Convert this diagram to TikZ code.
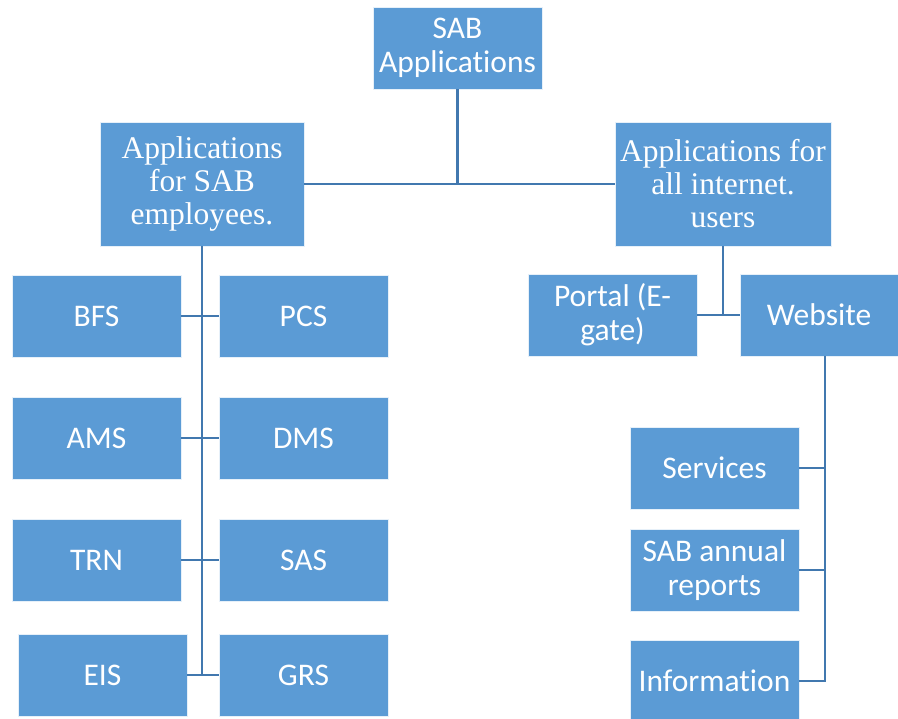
\documentclass[tikz,border=0pt]{standalone}
\usepackage{fontspec}
\setmainfont[Ligatures=NoCommon]{Carlito}
\newfontfamily\serifx{Liberation Serif}
\definecolor{boxfill}{RGB}{91,155,213}
\definecolor{linec}{RGB}{65,120,175}
\tikzset{
  box/.style={draw=white!85!boxfill, line width=0.8pt, fill=boxfill, text=white, align=center,
    inner sep=0pt, font=\fontsize{31.5}{34}\selectfont},
  sbox/.style={box, font=\serifx\fontsize{31.5}{33}\selectfont},
  conn/.style={draw=linec, line width=2.2pt}
}
\begin{document}
\begin{tikzpicture}[x=1pt,y=-1pt]
\useasboundingbox (0,0) rectangle (898,719);
\node[box, minimum width=169pt, minimum height=82pt] (top) at (457.5,48) {SAB\\Applications};
\node[sbox, minimum width=204pt, minimum height=124pt] (emp) at (202,184) {Applications\\for SAB\\employees.};
\node[sbox, minimum width=216pt, minimum height=124pt] (inet) at (723,184) {Applications for\\all internet.\\users};
\node[box, minimum width=169pt, minimum height=82pt] (portal) at (612.5,315) {Portal (E-\\gate)};
\node[box, minimum width=158pt, minimum height=82pt] (web) at (819,315) {Website};
\node[box, minimum width=169pt, minimum height=82pt] (bfs) at (96.5,316) {BFS};
\node[box, minimum width=169pt, minimum height=82pt] (pcs) at (303.5,316) {PCS};
\node[box, minimum width=169pt, minimum height=82pt] (ams) at (96.5,438) {AMS};
\node[box, minimum width=169pt, minimum height=82pt] (dms) at (303.5,438) {DMS};
\node[box, minimum width=169pt, minimum height=82pt] (trn) at (96.5,560) {TRN};
\node[box, minimum width=169pt, minimum height=82pt] (sas) at (303.5,560) {SAS};
\node[box, minimum width=169pt, minimum height=82pt] (eis) at (102.5,675) {EIS};
\node[box, minimum width=169pt, minimum height=82pt] (grs) at (303.5,675) {GRS};
\node[box, minimum width=169pt, minimum height=82pt] (serv) at (714.5,468) {Services};
\node[box, minimum width=169pt, minimum height=82pt] (rep) at (714.5,570) {SAB annual\\reports};
\node[box, minimum width=169pt, minimum height=82pt] (info) at (714.5,681) {Information};
\coordinate (mid) at (457.5,183);
\coordinate (wb) at (825,681);
% top level
\draw[conn] (top.south) -- (mid);
\draw[conn] (emp.east) -- (inet.west);
% employees
\draw[conn] (emp.south) -- (emp.south |- eis.east);
\draw[conn] (bfs.east) -- (pcs.west);
\draw[conn] (ams.east) -- (dms.west);
\draw[conn] (trn.east) -- (sas.west);
\draw[conn] (eis.east) -- (grs.west);
% internet
\draw[conn] (inet.south) -- (inet.south |- portal.east);
\draw[conn] (portal.east) -- (web.west);
% website
\draw[conn] (web.south -| wb) -- (wb) -- (info.east);
\draw[conn] (serv.east) -- (serv.east -| wb);
\draw[conn] (rep.east) -- (rep.east -| wb);
\end{tikzpicture}
\end{document}
